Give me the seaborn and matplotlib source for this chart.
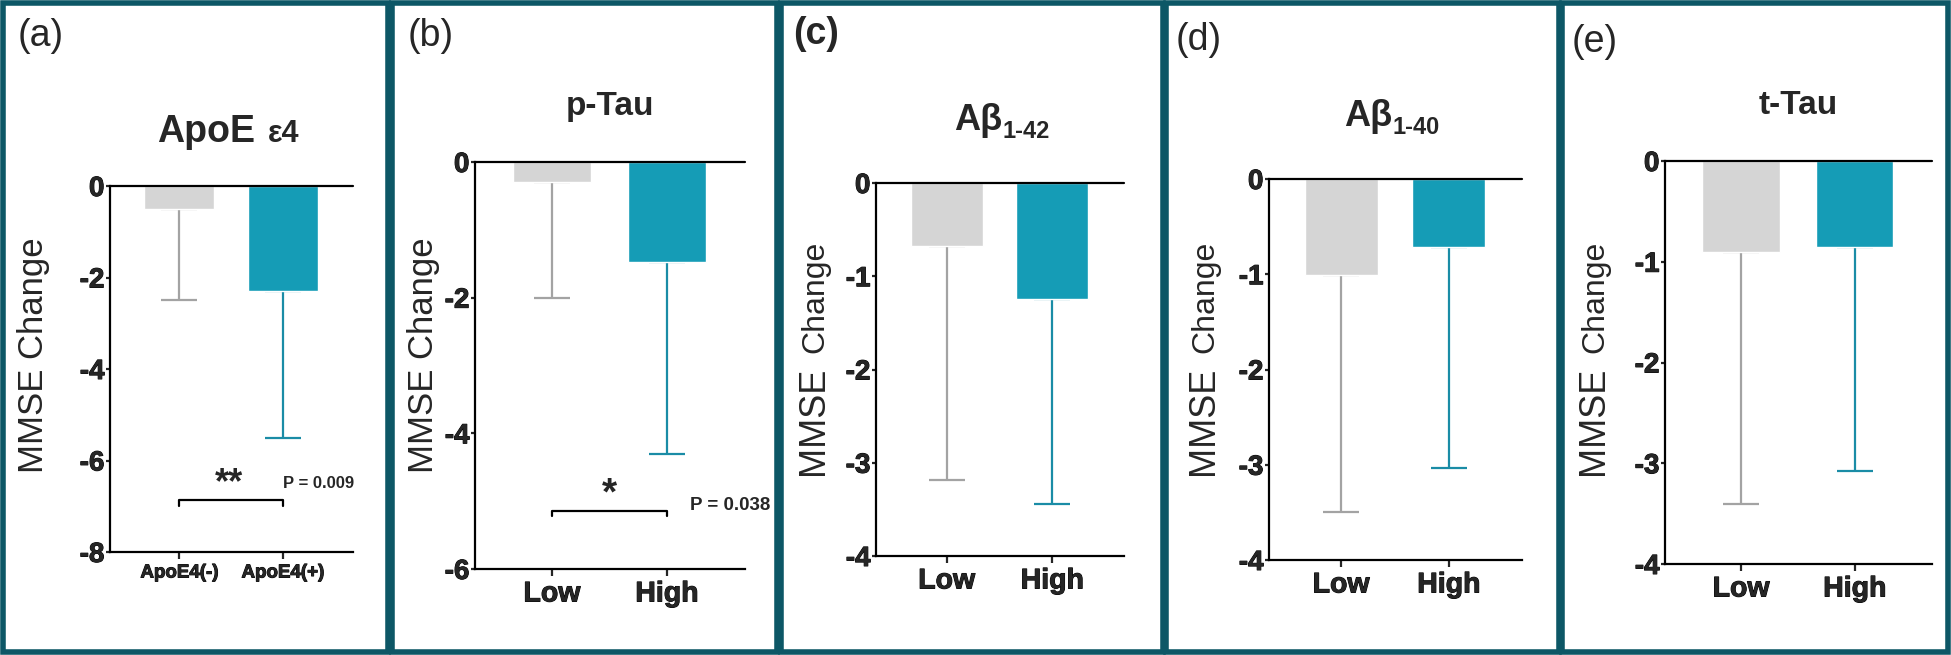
import numpy as np
import pandas as pd
import matplotlib
matplotlib.use("Agg")
import matplotlib.pyplot as plt
import matplotlib.patheffects as pe
from matplotlib.patches import Rectangle
import seaborn as sns

sns.set_style("ticks")
plt.rcParams['font.family'] = ['Liberation Sans', 'DejaVu Sans']

# data: mean MMSE change and lower end of the error bar
groups_apoe = ["ApoE4(-)", "ApoE4(+)"]
groups_lh = ["Low", "High"]
panels = ["(a)", "(b)", "(c)", "(d)", "(e)"]

apoe_mean = [-0.5, -2.3]
apoe_low = [-2.5, -5.5]
ptau_mean = [-0.29, -1.48]
ptau_low = [-2.0, -4.3]
ab42_mean = [-0.68, -1.24]
ab42_low = [-3.18, -3.44]
ab40_mean = [-1.01, -0.71]
ab40_low = [-3.5, -3.03]
ttau_mean = [-0.9, -0.85]
ttau_low = [-3.4, -3.08]

W, H = 1951, 655
GRAY = "#d5d5d5"
TEAL = "#159cb6"
GRAY_ERR = "#a3a3a3"
TEAL_ERR = "#1a8ca6"
BORDER = "#0d5766"

fig = plt.figure(figsize=(W / 100, H / 100), dpi=100)

# panel frames (pixel x ranges)
frames = [(0, 391), (389, 780), (778, 1166), (1163, 1562), (1559, 1951)]
for x0, x1 in frames:
    fig.patches.append(Rectangle((x0 / W + 3 / W, 3 / H), (x1 - x0 - 6) / W, 1 - 6 / H,
                                 transform=fig.transFigure, fill=False,
                                 edgecolor=BORDER, linewidth=4.0, zorder=0))

axes = []


def add_ax(left, right, top, bottom):
    a = fig.add_axes([left / W, 1 - bottom / H, (right - left) / W, (bottom - top) / H])
    axes.append(a)
    return a


def draw_panel(ax, cats, means, lows, ymin, ystep, xlabsize):
    df = pd.DataFrame({"group": cats, "value": means})
    sns.barplot(data=df, x="group", y="value", hue="group", palette=[GRAY, TEAL],
                saturation=1, width=0.68, errorbar=None, legend=False, ax=ax, zorder=3)
    for i, (m, lo, ec) in enumerate(zip(means, lows, [GRAY_ERR, TEAL_ERR])):
        ax.errorbar(i, m, yerr=[[m - lo], [0]], fmt="none", ecolor=ec,
                    elinewidth=1.6, capsize=13, capthick=1.6, zorder=2)
    ax.set_ylim(ymin, 0)
    ax.set_xlim(-0.67, 1.68)
    ticks = np.arange(0, ymin - 0.01, -ystep)
    ax.set_yticks(ticks)
    ax.set_yticklabels([f"{int(v)}" if v != 0 else "0" for v in ticks])
    ax.set_xticks([0, 1])
    ax.set_xticklabels(cats)
    ax.axhline(0, color="black", lw=1.6, zorder=4, clip_on=False)
    for s in ["top", "right"]:
        ax.spines[s].set_visible(False)
    for s in ["left", "bottom"]:
        ax.spines[s].set_linewidth(1.6)
        ax.spines[s].set_color("black")
    ax.tick_params(axis="y", length=3, width=1.6, pad=1, labelsize=20)
    ax.tick_params(axis="x", length=5, width=1.6, pad=4, labelsize=xlabsize)
    ax.set_xlabel("")
    ax.set_ylabel("")
    ax.patch.set_alpha(0)


# (a) ApoE e4
ax = add_ax(110, 353, 186, 552)
draw_panel(ax, groups_apoe, apoe_mean, apoe_low, -8, 2, 13.5)
yb = -6.87
ax.plot([0, 0, 1, 1], [yb - 0.12, yb, yb, yb - 0.12], color="black", lw=1.6, zorder=5)
ax.text(0.48, -6.5, "**", ha="center", va="center", fontsize=26, fontweight="bold")
ax.text(1.0, -6.5, "P = 0.009", ha="left", va="center", fontsize=12, fontweight="bold")

# (b) p-Tau
ax = add_ax(475, 745, 162, 569)
draw_panel(ax, groups_lh, ptau_mean, ptau_low, -6, 2, 20.5)
yb = -5.15
ax.plot([0, 0, 1, 1], [yb - 0.07, yb, yb, yb - 0.07], color="black", lw=1.6, zorder=5)
ax.text(0.5, -4.9, "*", ha="center", va="center", fontsize=28, fontweight="bold")
ax.text(1.2, -5.07, "P = 0.038", ha="left", va="center", fontsize=13.5, fontweight="bold")

# (c) Abeta 1-42
ax = add_ax(876, 1124, 183, 556)
draw_panel(ax, groups_lh, ab42_mean, ab42_low, -4, 1, 20.5)

# (d) Abeta 1-40
ax = add_ax(1269, 1522, 179, 560)
draw_panel(ax, groups_lh, ab40_mean, ab40_low, -4, 1, 20.5)

# (e) t-Tau
ax = add_ax(1665, 1932, 161, 564)
draw_panel(ax, groups_lh, ttau_mean, ttau_low, -4, 1, 20.5)


def ftext(x, y, s, **kw):
    fig.text(x / W, 1 - y / H, s, **kw)


# titles
ftext(255, 142, "ApoE", ha="right", va="baseline", fontsize=27, fontweight="bold")
ftext(268, 142, "ε4", ha="left", va="baseline", fontsize=22, fontweight="bold")
ftext(610, 107, "p-Tau", ha="center", va="center", fontsize=24, fontweight="bold")
ftext(1002, 121, "Aβ", ha="right", va="center", fontsize=26, fontweight="bold")
ftext(1002, 131, "1-42", ha="left", va="center", fontsize=17, fontweight="bold")
ftext(1392, 117, "Aβ", ha="right", va="center", fontsize=26, fontweight="bold")
ftext(1392, 127, "1-40", ha="left", va="center", fontsize=17, fontweight="bold")
ftext(1798, 105, "t-Tau", ha="center", va="center", fontsize=24, fontweight="bold")

# panel letters
letter_pos = [(18, 36), (408, 36), (793, 34), (1176, 40), (1572, 42)]
for lab, (x, y) in zip(panels, letter_pos):
    ftext(x, y, lab, ha="left", va="center", fontsize=27,
          fontweight="bold" if lab == "(c)" else "normal")

# y labels (baseline on the right side of the rotated text)
ylab_kw = dict(rotation=90, rotation_mode="anchor", ha="left", va="baseline")
ftext(43, 473, "MMSE Change", fontsize=25, **ylab_kw)
ftext(433, 473, "MMSE Change", fontsize=25, **ylab_kw)
for x in [823, 1213, 1603]:
    ftext(x, 475, "MMSE", fontsize=26, **ylab_kw)
    ftext(x, 353, "Change", fontsize=23, **ylab_kw)

# heavy tick labels, applied after a draw so the final tick objects get it
fig.canvas.draw()
heavy = [pe.withStroke(linewidth=0.7, foreground="black")]
for a in axes:
    for t in a.get_yticklabels() + a.get_xticklabels():
        t.set_fontweight("bold")
        t.set_path_effects(heavy)

fig.savefig("out.png", dpi=100, facecolor="white")
